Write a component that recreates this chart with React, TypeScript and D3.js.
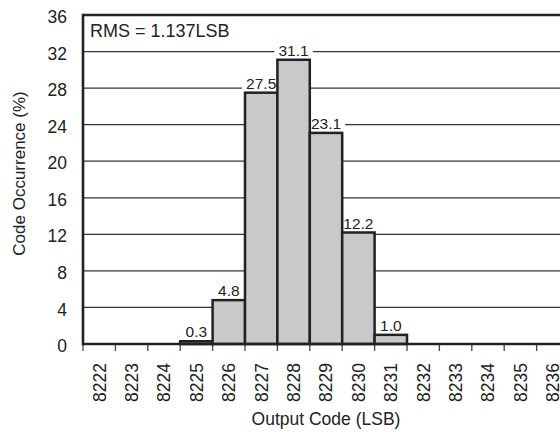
import React from "react";
import * as d3 from "d3";

const codes = ["8222","8223","8224","8225","8226","8227","8228","8229","8230","8231","8232","8233","8234","8235","8236"];
const occurrence = [0, 0, 0, 0.3, 4.8, 27.5, 31.1, 23.1, 12.2, 1.0, 0, 0, 0, 0, 0];
const yTicks = [0, 4, 8, 12, 16, 20, 24, 28, 32, 36];
const rmsText = "RMS = 1.137LSB";
const xTitle = "Output Code (LSB)";
const yTitle = "Code Occurrence (%)";

const W = 560, H = 432;
const left = 83, top = 15, bottom = 344;
const binW = 32.4;
const font = "'Liberation Sans', Arial, Helvetica, sans-serif";

export default function App() {
  const x = d3.scaleBand<string>().domain(codes).range([left, left + codes.length * binW]).padding(0);
  const y = d3.scaleLinear().domain([0, 36]).range([bottom, top]);
  const right = left + codes.length * binW;
  const dark = "#222";
  const labels = codes.map((c, i) => ({ c, v: occurrence[i] })).filter(d => d.v > 0);
  return (
    <svg width={W} height={H} style={{ position: "absolute", left: 0, top: 0, background: "#fff" }} fontFamily={font}>
      <rect x={0} y={0} width={W} height={H} fill="#fff" />
      {yTicks.filter(t => t > 0 && t < 36).map(t => (
        <line key={t} x1={left} x2={right} y1={y(t)} y2={y(t)} stroke="#333" strokeWidth={1.2} />
      ))}
      {labels.map(d => {
        const w = d.v.toFixed(1).length * 8.6 + 4;
        return <rect key={"bg" + d.c} x={x(d.c)! + x.bandwidth() / 2 - w / 2} y={y(d.v) - 17} width={w} height={14} fill="#fff" />;
      })}
      {codes.map((c, i) => occurrence[i] > 0 ? (
        <rect key={c} x={x(c)!} y={y(occurrence[i])} width={x.bandwidth()} height={bottom - y(occurrence[i])}
          fill="#c8c9cb" stroke={dark} strokeWidth={2.5} />
      ) : null)}
      {labels.map(d => (
        <text key={"t" + d.c} x={x(d.c)! + x.bandwidth() / 2} y={y(d.v) - 4} textAnchor="middle" fontSize={15.5} fill="#222">
          {d.v.toFixed(1)}
        </text>
      ))}
      {codes.map(c => (
        <line key={"tk" + c} x1={x(c)!} x2={x(c)!} y1={bottom} y2={bottom + 7} stroke="#444" strokeWidth={1.3} />
      ))}
      <line x1={left} x2={right} y1={top} y2={top} stroke={dark} strokeWidth={2.6} />
      <line x1={left} x2={left} y1={top - 1.3} y2={bottom + 1.3} stroke={dark} strokeWidth={2.6} />
      <line x1={right} x2={right} y1={top} y2={bottom} stroke={dark} strokeWidth={2.6} />
      <line x1={left} x2={right} y1={bottom} y2={bottom} stroke={dark} strokeWidth={2.6} />
      {yTicks.map(t => (
        <text key={"yl" + t} x={67} y={y(t) + 2} dy="0.35em" textAnchor="end" fontSize={17.5} fill="#222">{t}</text>
      ))}
      {codes.map(c => (
        <text key={"xl" + c} transform={`translate(${x(c)! + x.bandwidth() / 2},363) rotate(-90)`} dy="0.36em"
          textAnchor="end" fontSize={17.5} fill="#222">{c}</text>
      ))}
      <text x={90} y={37} fontSize={18} fill="#222">{rmsText}</text>
      <text x={326} y={425} textAnchor="middle" fontSize={17.5} fill="#222">{xTitle}</text>
      <text transform={`translate(19,173.5) rotate(-90)`} dy="0.35em" textAnchor="middle" fontSize={17} fill="#222">{yTitle}</text>
    </svg>
  );
}
